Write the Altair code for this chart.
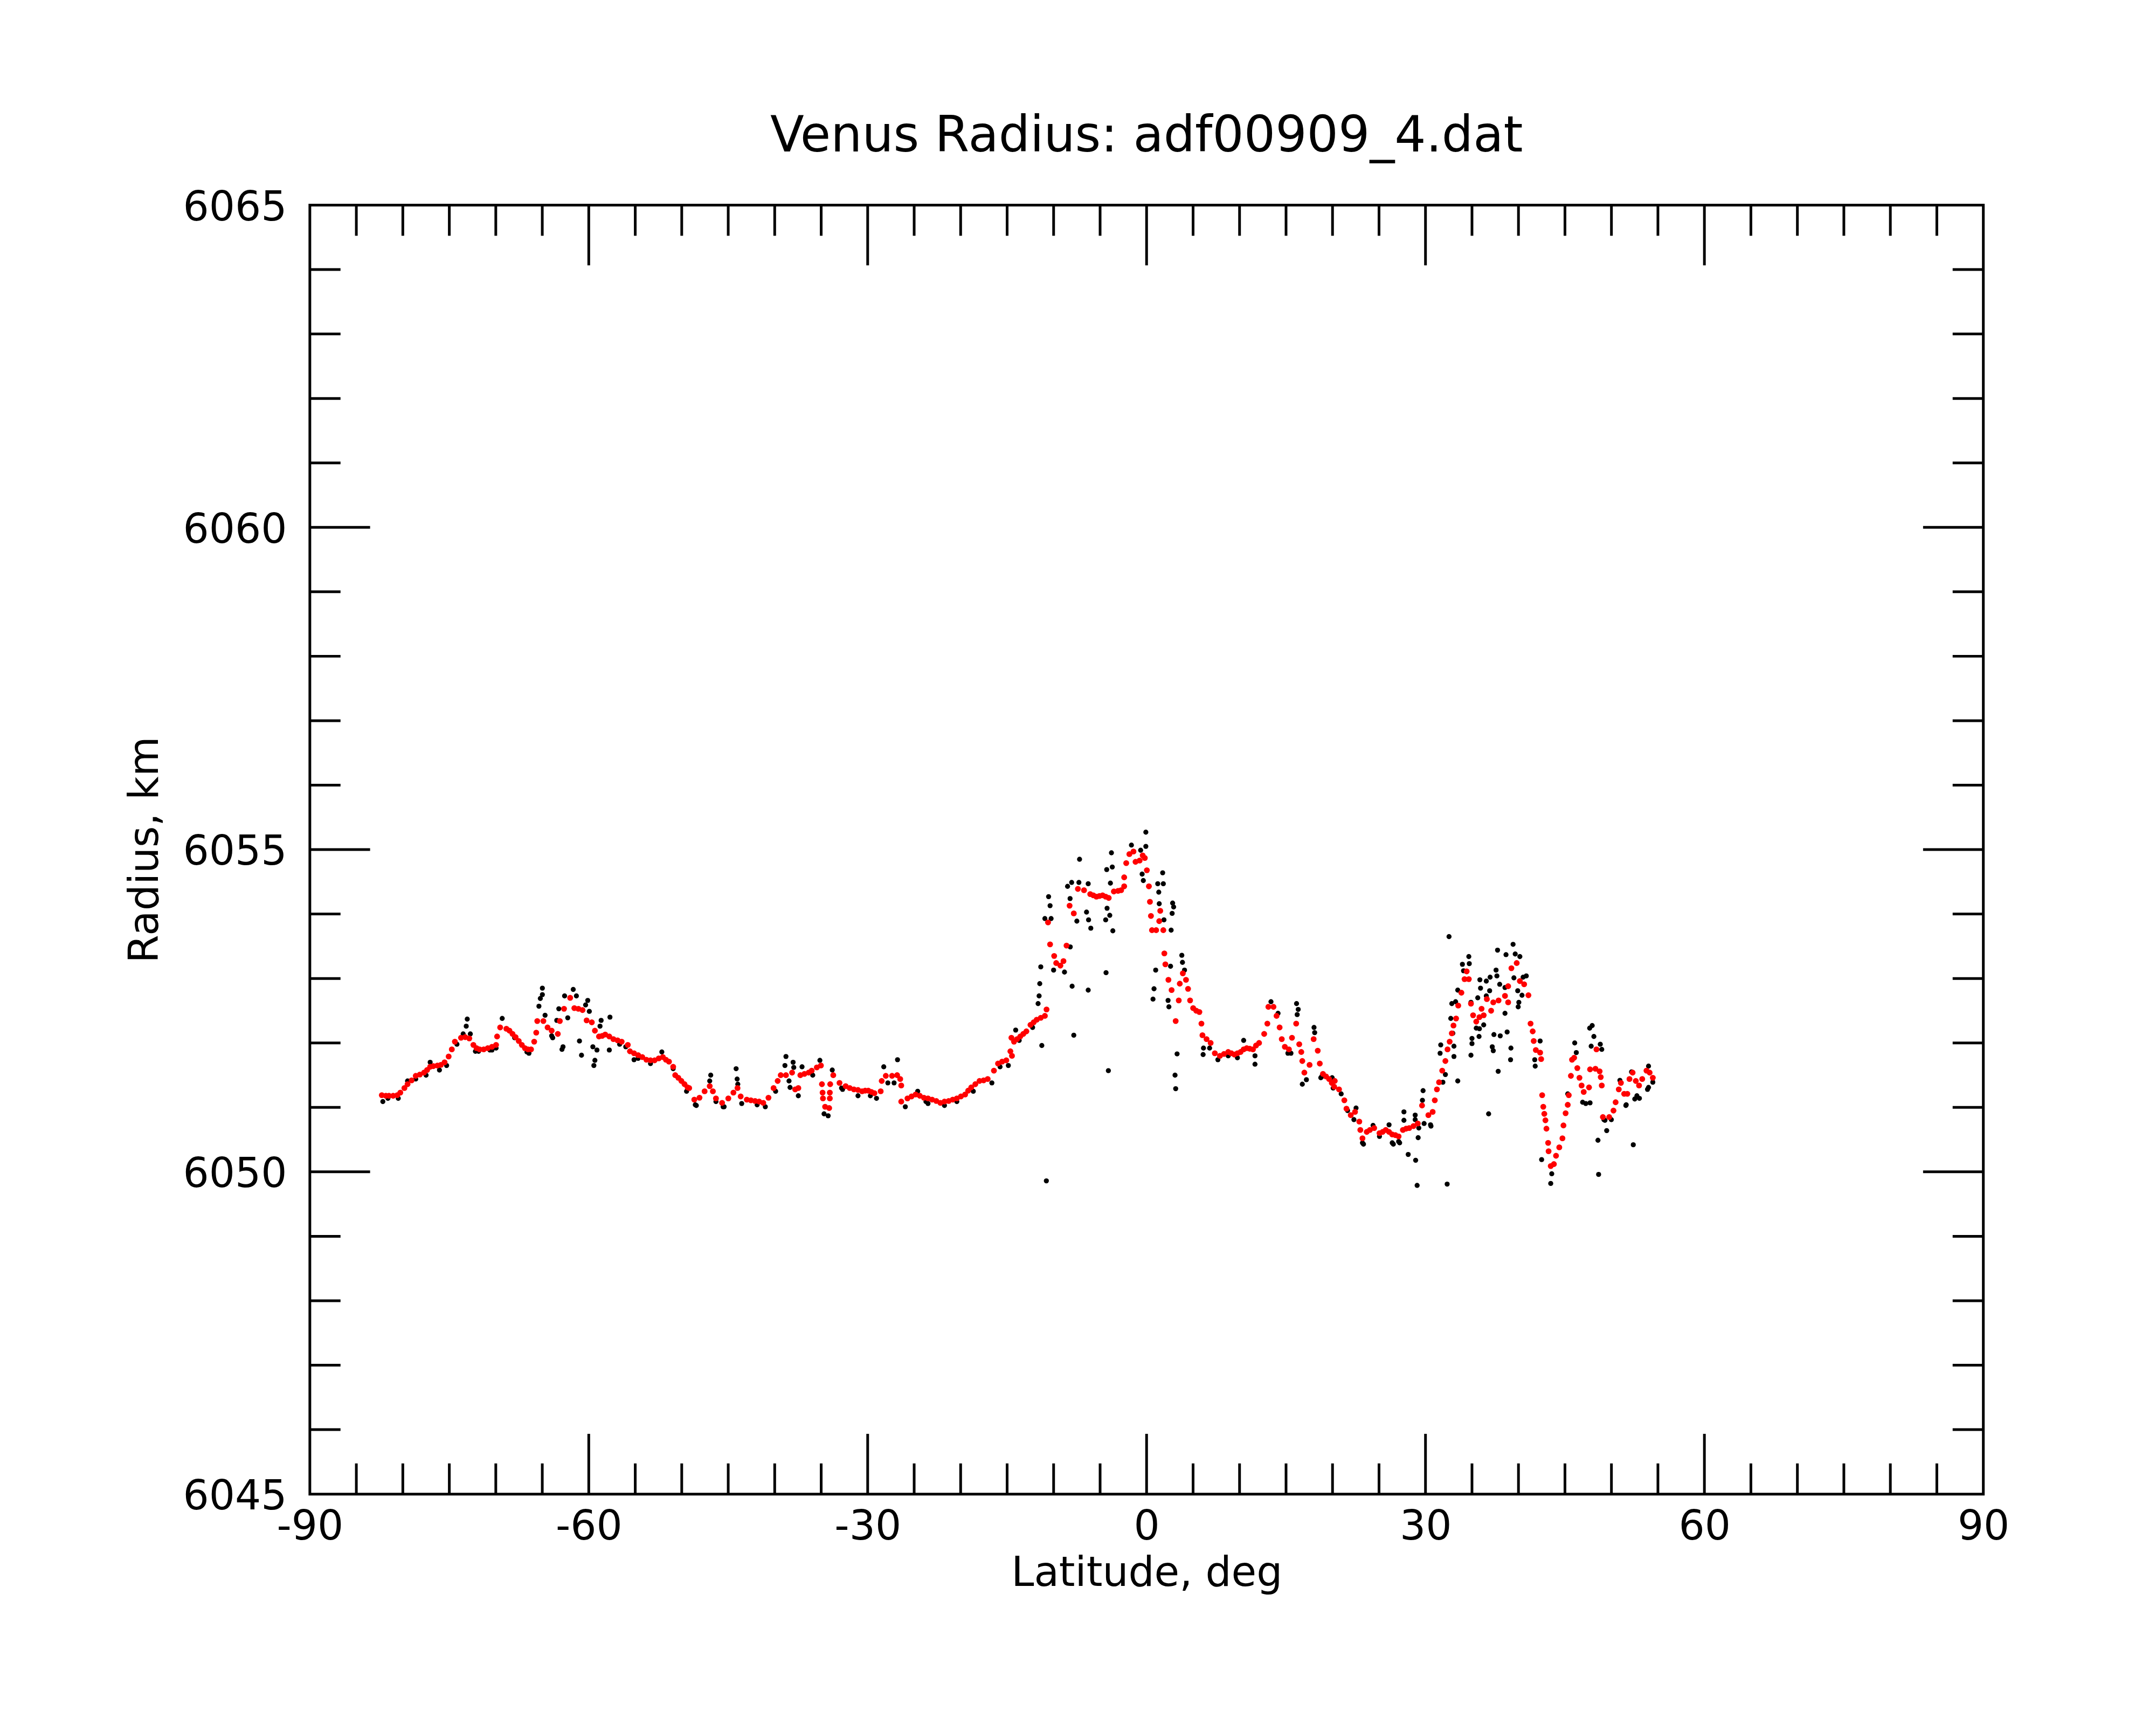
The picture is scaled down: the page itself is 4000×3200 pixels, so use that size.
import altair as alt
import pandas as pd

W, H = 3111, 2396
FONT = "DejaVu Sans"
XDOM = [-90, 90]
YDOM = [6045, 6065]

# axis label values and tick positions (data units)
x_labels = [-90, -60, -30, 0, 30, 60, 90]
y_labels = [6045, 6050, 6055, 6060, 6065]
x_major = [-60, -30, 0, 30, 60]
x_minor = [-85, -80, -75, -70, -65, -55, -50, -45, -40, -35, -25, -20, -15, -10, -5,
           5, 10, 15, 20, 25, 35, 40, 45, 50, 55, 65, 70, 75, 80, 85]
y_major = [6050, 6055, 6060]
y_minor = [6046, 6047, 6048, 6049, 6051, 6052, 6053, 6054, 6056, 6057, 6058, 6059,
           6061, 6062, 6063, 6064]

# ---- red (smoothed) radius samples: (latitude deg, radius km) ----
red_south = [
    (-82.26, 6051.19), (-81.82, 6051.18), (-81.49, 6051.18), (-81.04, 6051.18), (-80.60, 6051.19),
    (-80.27, 6051.23), (-79.83, 6051.30), (-79.49, 6051.36), (-79.05, 6051.42), (-78.61, 6051.49),
    (-78.17, 6051.51), (-77.72, 6051.54), (-77.39, 6051.58), (-77.06, 6051.63), (-76.72, 6051.64),
    (-76.28, 6051.65), (-75.91, 6051.66), (-75.51, 6051.70), (-75.07, 6051.79), (-74.73, 6051.90),
    (-74.40, 6052.02), (-73.74, 6052.08), (-73.29, 6052.09), (-72.85, 6052.07), (-72.41, 6051.97),
    (-72.07, 6051.92), (-71.74, 6051.90), (-71.30, 6051.90), (-70.86, 6051.92), (-70.41, 6051.94),
    (-69.97, 6051.97), (-69.86, 6052.10), (-69.53, 6052.24), (-68.86, 6052.22), (-68.53, 6052.19),
    (-68.20, 6052.14), (-67.87, 6052.09), (-67.53, 6052.03), (-67.20, 6051.97), (-66.87, 6051.92),
    (-66.54, 6051.90), (-66.21, 6051.90), (-65.87, 6052.02), (-65.65, 6052.16), (-65.54, 6052.34),
    (-64.88, 6052.34), (-64.43, 6052.24), (-63.99, 6052.19), (-63.33, 6052.14), (-63.11, 6052.34),
    (-62.66, 6052.53), (-62.00, 6052.70), (-61.55, 6052.54), (-61.11, 6052.53), (-60.67, 6052.51),
    (-60.23, 6052.35), (-59.67, 6052.32), (-59.34, 6052.19), (-58.90, 6052.10), (-58.56, 6052.11),
    (-58.23, 6052.13), (-57.79, 6052.10), (-57.35, 6052.06), (-56.90, 6052.04), (-56.46, 6052.02),
    (-55.80, 6051.97), (-55.57, 6051.87), (-55.13, 6051.84), (-54.69, 6051.81), (-54.24, 6051.78),
    (-53.80, 6051.74), (-53.36, 6051.73), (-52.92, 6051.73), (-52.47, 6051.76), (-52.03, 6051.78),
    (-51.70, 6051.74), (-51.37, 6051.71), (-50.92, 6051.63), (-50.70, 6051.50), (-50.37, 6051.46),
    (-50.04, 6051.41), (-49.70, 6051.36), (-49.37, 6051.31),
]
red_midsouth = [
    (-49.20, 6051.30), (-48.65, 6051.12), (-48.09, 6051.15), (-47.54, 6051.25), (-46.99, 6051.33),
    (-46.65, 6051.25), (-46.32, 6051.14), (-45.66, 6051.07), (-44.99, 6051.14), (-44.44, 6051.23),
    (-44.00, 6051.30), (-43.66, 6051.17), (-43.00, 6051.12), (-42.56, 6051.11), (-42.11, 6051.10),
    (-41.67, 6051.09), (-41.23, 6051.07), (-40.67, 6051.15), (-40.12, 6051.30), (-39.68, 6051.41),
    (-39.35, 6051.50), (-38.79, 6051.50), (-38.13, 6051.54), (-37.80, 6051.28), (-37.46, 6051.30),
    (-37.24, 6051.50), (-36.80, 6051.52), (-36.35, 6051.54), (-36.02, 6051.57), (-35.47, 6051.62),
    (-35.03, 6051.65), (-34.92, 6051.36), (-34.85, 6051.23), (-34.81, 6051.14), (-34.58, 6051.01),
    (-34.14, 6050.99), (-34.03, 6051.36), (-34.07, 6051.23), (-34.07, 6051.14), (-33.70, 6051.50),
    (-33.03, 6051.38), (-32.37, 6051.33), (-31.93, 6051.30), (-31.48, 6051.28), (-31.04, 6051.27),
    (-30.60, 6051.25), (-30.27, 6051.26), (-29.93, 6051.26), (-29.60, 6051.24), (-29.27, 6051.22),
    (-28.60, 6051.25), (-28.49, 6051.41), (-28.05, 6051.49), (-27.38, 6051.49), (-26.83, 6051.50),
    (-26.50, 6051.44), (-26.39, 6051.34), (-26.39, 6051.09), (-25.72, 6051.14), (-25.28, 6051.17),
    (-24.84, 6051.20), (-24.39, 6051.18), (-23.95, 6051.15), (-23.51, 6051.14), (-23.07, 6051.12),
    (-22.62, 6051.10), (-22.18, 6051.07), (-21.74, 6051.09), (-21.29, 6051.10), (-20.85, 6051.12),
    (-20.41, 6051.14), (-19.97, 6051.17), (-19.52, 6051.20), (-19.19, 6051.26), (-18.86, 6051.31),
    (-18.42, 6051.36), (-17.97, 6051.41), (-17.53, 6051.42), (-17.09, 6051.44), (-16.42, 6051.57),
    (-15.98, 6051.68), (-15.54, 6051.71), (-15.09, 6051.73), (-14.65, 6051.87), (-14.54, 6052.08),
]
red_equator = [
    (-14.48, 6051.80), (-14.26, 6052.02), (-13.93, 6052.06), (-13.59, 6052.10), (-13.26, 6052.14),
    (-12.93, 6052.18), (-12.49, 6052.28), (-12.15, 6052.32), (-11.82, 6052.36), (-11.38, 6052.39),
    (-10.94, 6052.42), (-10.76, 6052.52), (-10.60, 6053.87), (-10.38, 6053.53), (-9.94, 6053.35),
    (-9.72, 6053.24), (-9.27, 6053.20), (-8.94, 6053.27), (-8.61, 6053.51), (-8.28, 6054.13),
    (-7.83, 6054.01), (-7.39, 6054.39), (-6.73, 6054.37), (-6.06, 6054.31), (-5.73, 6054.29),
    (-5.40, 6054.27), (-5.07, 6054.28), (-4.73, 6054.29), (-4.40, 6054.27), (-4.07, 6054.25),
    (-3.52, 6054.35), (-3.07, 6054.36), (-2.74, 6054.37), (-2.41, 6054.43), (-2.41, 6054.57),
    (-2.19, 6054.79), (-1.85, 6054.93), (-1.41, 6054.97), (-1.19, 6054.81), (-0.75, 6054.83),
    (-0.42, 6054.91), (-0.19, 6054.87), (0.03, 6054.68), (0.25, 6054.43), (0.36, 6054.19),
    (0.47, 6053.97), (0.58, 6053.75), (1.03, 6053.75), (1.36, 6053.89), (1.47, 6054.05),
    (1.80, 6053.75), (1.91, 6053.39), (2.02, 6053.22), (2.35, 6052.98), (2.69, 6052.82),
    (3.13, 6052.34), (3.46, 6052.66), (3.57, 6052.92), (3.90, 6053.08), (4.24, 6052.98),
    (4.46, 6052.84), (4.68, 6052.66), (5.01, 6052.54), (5.34, 6052.50), (5.68, 6052.48),
    (5.90, 6052.30), (6.01, 6052.12), (6.45, 6052.06), (6.89, 6052.00), (7.34, 6051.84),
    (7.89, 6051.80), (8.33, 6051.83), (8.78, 6051.86), (9.11, 6051.84), (9.44, 6051.82),
    (9.77, 6051.84), (10.11, 6051.86), (10.44, 6051.90), (10.77, 6051.92), (11.10, 6051.91),
    (11.44, 6051.90), (11.77, 6051.96), (12.10, 6052.00), (12.65, 6052.14), (12.99, 6052.30),
    (13.10, 6052.56), (13.65, 6052.56), (13.98, 6052.42), (14.31, 6052.24), (14.54, 6052.06),
    (14.87, 6051.94), (15.31, 6051.90), (15.64, 6052.08), (16.09, 6052.30), (16.42, 6051.98),
    (16.64, 6051.86), (16.75, 6051.72), (16.97, 6051.54), (17.53, 6051.66), (17.97, 6052.06),
    (18.41, 6051.88), (18.63, 6051.68), (18.97, 6051.52), (19.30, 6051.48), (19.63, 6051.44),
    (19.92, 6051.38), (20.18, 6051.32),
]
red_north = [
    (20.24, 6051.41), (20.70, 6051.28), (21.27, 6051.11), (21.50, 6050.98), (21.96, 6050.88),
    (22.42, 6050.93), (22.88, 6050.78), (22.99, 6050.65), (23.22, 6050.52), (23.68, 6050.62),
    (24.02, 6050.65), (24.48, 6050.68), (25.05, 6050.60), (25.39, 6050.62), (25.73, 6050.65),
    (26.08, 6050.62), (26.42, 6050.58), (26.76, 6050.57), (27.11, 6050.55), (27.57, 6050.65),
    (27.91, 6050.67), (28.25, 6050.68), (28.71, 6050.71), (29.17, 6050.75), (29.63, 6051.03),
    (30.31, 6050.88), (30.77, 6050.93), (31.00, 6051.11), (31.23, 6051.28), (31.46, 6051.39),
    (31.80, 6051.57), (32.14, 6051.72), (32.37, 6051.90), (32.60, 6052.02), (32.83, 6052.15),
    (33.01, 6052.27), (33.29, 6052.38), (33.52, 6052.58), (33.86, 6052.78), (34.20, 6052.99),
    (34.43, 6053.11), (34.66, 6052.99), (34.89, 6052.61), (35.12, 6052.43), (35.46, 6052.33),
    (35.80, 6052.40), (36.03, 6052.53), (36.26, 6052.43), (36.60, 6052.68), (37.06, 6052.50),
    (37.29, 6052.63), (37.86, 6052.66), (38.55, 6052.73), (38.89, 6052.63), (38.89, 6052.88),
    (39.24, 6053.16), (39.81, 6053.24), (40.15, 6052.96), (40.61, 6052.91), (41.07, 6052.74),
    (41.30, 6052.30), (41.53, 6052.18), (41.64, 6052.03), (41.87, 6051.89), (42.33, 6051.85),
    (42.44, 6051.75), (42.55, 6051.19), (42.67, 6051.01), (42.78, 6050.90), (42.90, 6050.80),
    (43.01, 6050.67), (43.19, 6050.45), (43.24, 6050.32), (43.47, 6050.09), (43.81, 6050.12),
    (44.04, 6050.25), (44.39, 6050.38), (44.73, 6050.52), (44.84, 6050.72), (45.07, 6050.91),
    (45.30, 6051.04), (45.41, 6051.19), (45.64, 6051.49), (45.76, 6051.74), (45.99, 6051.77),
    (46.33, 6051.61), (46.56, 6051.46), (46.79, 6051.34), (47.02, 6051.24), (47.59, 6051.31),
    (47.70, 6051.59), (48.28, 6051.60), (48.39, 6051.90), (48.73, 6051.56), (48.85, 6051.47),
    (48.96, 6051.34), (49.08, 6050.85), (49.76, 6050.85), (50.22, 6050.95), (50.45, 6051.08),
    (50.79, 6051.28), (51.02, 6051.38), (51.37, 6051.21), (51.71, 6051.21), (51.94, 6051.44),
    (52.28, 6051.54), (52.62, 6051.41), (52.97, 6051.34), (53.31, 6051.44), (53.77, 6051.57),
    (54.11, 6051.54), (54.45, 6051.46),
]

# ---- black (raw) radius samples ----
black_south = [
    (-73.07, 6052.37), (-73.18, 6052.26), (-73.51, 6052.14), (-69.31, 6052.38), (-64.99, 6052.85),
    (-64.99, 6052.75), (-65.21, 6052.69), (-65.36, 6052.57), (-64.70, 6052.43), (-63.88, 6052.08),
    (-62.77, 6051.94), (-62.88, 6051.90), (-63.22, 6052.53), (-63.44, 6052.35), (-62.26, 6052.39),
    (-61.67, 6052.83), (-62.60, 6052.73), (-61.33, 6052.73), (-60.11, 6052.66), (-60.34, 6052.59),
    (-59.94, 6052.49), (-61.00, 6052.03), (-60.78, 6051.81), (-59.56, 6051.94), (-59.12, 6051.89),
    (-59.34, 6051.73), (-59.45, 6051.65), (-58.67, 6052.35), (-58.79, 6052.26), (-57.72, 6052.40),
    (-57.79, 6051.89), (-55.13, 6051.74), (-52.14, 6051.86), (-71.85, 6051.87), (-70.41, 6051.89),
    (-82.15, 6051.09), (-80.49, 6051.14), (-66.43, 6051.84), (-76.06, 6051.58), (-77.06, 6051.70),
    (-79.49, 6051.41), (-72.74, 6052.14),
    (-81.60, 6051.14), (-78.61, 6051.44), (-77.50, 6051.50), (-75.29, 6051.65), (-74.18, 6051.98),
    (-72.19, 6051.87), (-70.63, 6051.89), (-69.97, 6051.92), (-67.97, 6052.08), (-66.65, 6051.86),
    (-63.99, 6052.11), (-56.68, 6051.98), (-56.02, 6051.94), (-54.69, 6051.76), (-53.36, 6051.68),
    (-50.92, 6051.60), (-49.48, 6051.25),
]
black_midsouth = [
    (-46.88, 6051.50), (-46.99, 6051.41), (-44.15, 6051.60), (-44.04, 6051.44), (-43.97, 6051.36),
    (-38.79, 6051.79), (-38.90, 6051.65), (-38.02, 6051.70), (-37.95, 6051.62), (-37.06, 6051.63),
    (-38.46, 6051.41), (-38.35, 6051.31), (-37.46, 6051.18), (-35.14, 6051.73), (-28.27, 6051.63),
    (-26.79, 6051.74), (-27.83, 6051.38), (-27.16, 6051.38), (-34.25, 6050.87), (-34.69, 6050.90),
    (-33.81, 6051.58), (-25.95, 6051.01), (-48.43, 6051.03), (-45.55, 6051.01), (-43.55, 6051.06),
    (-41.01, 6051.01), (-29.05, 6051.14), (-31.04, 6051.18), (-32.70, 6051.28), (-24.62, 6051.25),
    (-23.51, 6051.06), (-21.74, 6051.03), (-14.87, 6051.65), (-16.64, 6051.38),
    (-48.54, 6051.04), (-46.32, 6051.09), (-45.44, 6051.01), (-41.89, 6051.04), (-39.90, 6051.25),
    (-35.91, 6051.50), (-32.81, 6051.30), (-29.71, 6051.18), (-23.73, 6051.09), (-20.41, 6051.09),
    (-18.64, 6051.25), (-15.76, 6051.63),
]
black_equator = [
    (-0.08, 6055.27), (-1.63, 6055.07), (-0.08, 6055.05), (-0.64, 6054.99), (-3.78, 6054.95),
    (-7.21, 6054.85), (-4.29, 6054.69), (-3.69, 6054.73), (-8.06, 6054.49), (-8.50, 6054.43),
    (-7.28, 6054.49), (-6.28, 6054.47), (-3.89, 6054.48), (-8.23, 6054.24), (-7.50, 6053.89),
    (-6.46, 6054.03), (-6.24, 6053.91), (-6.00, 6053.78), (-4.25, 6054.09), (-3.96, 6053.98),
    (-4.40, 6053.91), (-3.63, 6053.74), (-10.54, 6054.27), (-10.38, 6054.13), (-10.94, 6053.93),
    (-10.27, 6053.93), (-0.48, 6054.62), (-0.35, 6054.52), (1.73, 6054.64), (1.20, 6054.47),
    (1.80, 6054.47), (1.31, 6054.34), (1.36, 6054.16), (2.80, 6054.17), (2.91, 6054.11),
    (2.75, 6054.01), (2.64, 6053.75), (1.87, 6053.91), (-11.38, 6053.18), (-11.49, 6052.92),
    (-11.56, 6052.73), (-11.67, 6052.61), (-11.27, 6051.96), (-14.08, 6052.20), (-13.70, 6052.04),
    (-8.01, 6052.88), (-6.28, 6052.82), (-4.36, 6053.09), (-7.83, 6052.12), (-4.11, 6051.57),
    (-10.78, 6049.86), (-10.00, 6053.13), (-8.83, 6053.10), (-8.21, 6053.49), (0.98, 6053.13),
    (0.80, 6052.84), (0.69, 6052.68), (2.58, 6053.19), (2.31, 6052.66), (2.40, 6052.56),
    (3.79, 6053.36), (3.86, 6053.25), (4.08, 6053.13), (3.28, 6051.83), (3.06, 6051.50),
    (3.13, 6051.29), (6.12, 6051.92), (6.08, 6051.82), (10.44, 6052.04), (11.66, 6051.67),
    (13.38, 6052.64), (14.14, 6052.46), (16.13, 6052.61), (16.31, 6052.52), (16.20, 6052.44),
    (15.53, 6051.84), (16.75, 6051.36), (17.19, 6051.43), (18.01, 6052.24), (18.08, 6052.16),
    (7.67, 6051.74), (9.77, 6051.77), (18.85, 6051.48), (19.96, 6051.46),
    (-12.26, 6052.24), (11.66, 6051.80), (15.20, 6051.84), (18.74, 6051.46), (20.07, 6051.30),
    (6.78, 6051.92), (8.78, 6051.80),
]
black_north = [
    (32.53, 6053.65), (37.75, 6053.44), (39.42, 6053.53), (38.66, 6053.37), (39.65, 6053.38),
    (40.15, 6053.34), (40.84, 6053.04), (40.50, 6053.02), (34.66, 6053.34), (33.97, 6053.22),
    (34.71, 6053.23), (34.09, 6053.12), (37.59, 6053.13), (37.68, 6053.04), (35.85, 6052.98),
    (36.54, 6052.96), (36.95, 6053.02), (35.92, 6052.85), (36.90, 6052.81), (37.98, 6052.91),
    (38.55, 6052.86), (39.51, 6053.01), (39.92, 6052.81), (40.38, 6052.74), (33.47, 6052.82),
    (32.83, 6052.61), (33.24, 6052.64), (32.72, 6052.38), (35.62, 6052.70), (36.54, 6052.73),
    (38.55, 6052.46), (40.04, 6052.63), (39.97, 6052.56), (34.89, 6052.63), (35.46, 6052.23),
    (35.80, 6052.22), (36.26, 6052.28), (35.76, 6052.10), (37.36, 6052.13), (38.04, 6052.11),
    (38.78, 6052.17), (35.00, 6052.07), (35.00, 6051.99), (34.89, 6051.81), (37.18, 6051.94),
    (37.29, 6051.88), (39.19, 6051.92), (39.15, 6051.74), (37.82, 6051.56), (33.47, 6051.41),
    (33.06, 6051.79), (33.06, 6051.95), (32.94, 6052.15), (31.64, 6051.97), (31.57, 6051.84),
    (32.14, 6051.51), (31.87, 6051.39), (29.74, 6051.26), (29.67, 6051.11), (27.68, 6050.93),
    (27.68, 6050.80), (28.89, 6050.88), (28.89, 6050.81), (29.28, 6050.68), (29.21, 6050.53),
    (30.59, 6050.71), (28.14, 6050.27), (28.94, 6050.18), (29.10, 6049.79), (32.33, 6049.81),
    (36.79, 6050.90), (42.33, 6052.03), (41.75, 6051.74), (41.80, 6051.64), (42.49, 6050.19),
    (43.58, 6049.97), (43.47, 6049.82), (46.05, 6052.00), (46.22, 6051.85), (45.30, 6051.21),
    (47.93, 6052.27), (47.66, 6052.23), (48.11, 6052.10), (47.82, 6051.95), (48.80, 6051.98),
    (48.96, 6051.90), (46.90, 6051.08), (47.70, 6051.07), (49.49, 6050.64), (48.55, 6050.49),
    (48.62, 6049.96), (52.35, 6050.42), (53.99, 6051.31), (53.99, 6051.64), (53.01, 6051.14),
    (51.55, 6051.03), (52.51, 6051.13), (49.19, 6050.81), (50.91, 6051.42), (52.16, 6051.55),
    (23.22, 6050.45), (22.53, 6050.99), (24.36, 6050.72), (26.08, 6050.73), (26.42, 6050.45),
    (27.11, 6050.47),
    (20.93, 6051.21), (21.62, 6050.95), (22.30, 6050.81), (23.33, 6050.43), (25.05, 6050.55),
    (26.54, 6050.43), (27.22, 6050.45), (29.85, 6050.75), (30.54, 6050.73), (47.24, 6051.06),
    (49.30, 6050.80), (49.99, 6050.81), (51.59, 6051.04), (52.74, 6051.18), (53.88, 6051.28),
    (54.45, 6051.39),
]


def frame(*parts):
    rows = [p for part in parts for p in part]
    return pd.DataFrame(rows, columns=["lat", "r"])


red = frame(red_south, red_midsouth, red_equator, red_north)
black = frame(black_south, black_midsouth, black_equator, black_north)

xs = alt.Scale(domain=XDOM, nice=False, zero=False)
ys = alt.Scale(domain=YDOM, nice=False, zero=False)

x_axis = alt.Axis(
    values=x_labels, labelExpr="'' + datum.value", orient="bottom",
    ticks=False, tickSize=0, domain=False, grid=False,
    labelFont=FONT, labelFontSize=76, labelColor="black", labelPadding=24,
    labelFlush=False, labelOverlap=False, labelLimit=0,
    title="Latitude, deg", titleFont=FONT, titleFontSize=76, titleFontWeight="normal",
    titleColor="black", titleBaseline="alphabetic", titleAlign="center",
    titleX=W / 2, titleY=170,
)
y_axis = alt.Axis(
    values=y_labels, labelExpr="'' + datum.value", orient="left",
    ticks=False, tickSize=0, domain=False, grid=False,
    labelFont=FONT, labelFontSize=76, labelColor="black", labelPadding=43,
    labelOffset=5, labelOverlap=False, labelFlush=False, labelLimit=0,
    title="Radius, km", titleFont=FONT, titleFontSize=76, titleFontWeight="normal",
    titleColor="black", titleBaseline="alphabetic", titleAlign="center",
    titleAngle=270, titleX=-283, titleY=H / 2,
)

MAJ, MIN, TW = 112, 57, 5


def xticks(vals, length, top):
    d = pd.DataFrame({"v": vals})
    return alt.Chart(d).mark_rule(color="black", strokeWidth=TW).encode(
        x=alt.X("v:Q", scale=xs, axis=x_axis),
        y=alt.value(0 if top else H),
        y2=alt.value(length if top else H - length),
    )


def yticks(vals, length, left):
    d = pd.DataFrame({"v": vals})
    return alt.Chart(d).mark_rule(color="black", strokeWidth=TW).encode(
        y=alt.Y("v:Q", scale=ys, axis=y_axis),
        x=alt.value(0 if left else W),
        x2=alt.value(length if left else W - length),
    )


ticks = [
    xticks(x_major, MAJ, True), xticks(x_major, MAJ, False),
    xticks(x_minor, MIN, True), xticks(x_minor, MIN, False),
    yticks(y_major, MAJ, True), yticks(y_major, MAJ, False),
    yticks(y_minor, MIN, True), yticks(y_minor, MIN, False),
]

black_layer = alt.Chart(black).mark_circle(size=88, color="black", opacity=1).encode(
    x=alt.X("lat:Q", scale=xs, axis=x_axis),
    y=alt.Y("r:Q", scale=ys, axis=y_axis),
)
red_layer = alt.Chart(red).mark_circle(size=118, color="#ff0000", opacity=1).encode(
    x=alt.X("lat:Q", scale=xs, axis=x_axis),
    y=alt.Y("r:Q", scale=ys, axis=y_axis),
)

chart = alt.layer(*ticks, black_layer, red_layer).properties(
    width=W,
    height=H,
    title=alt.TitleParams(
        text="Venus Radius: adf00909_4.dat", font=FONT, fontSize=92,
        fontWeight="normal", color="black", anchor="middle", frame="group", offset=48,
    ),
    padding={"left": 568, "top": 370, "right": 313, "bottom": 426},
    autosize=alt.AutoSizeParams(type="none"),
).configure_view(stroke="black", strokeWidth=5)

chart.save("out.html", embed_options={"renderer": "svg", "actions": False})
